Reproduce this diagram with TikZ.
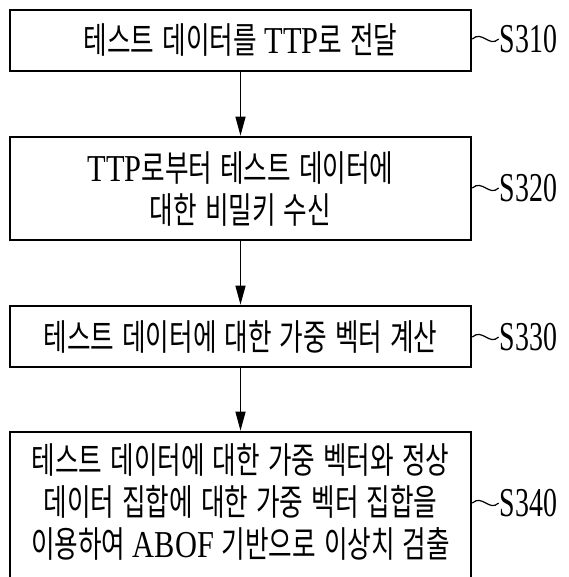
\documentclass[tikz,border=0pt]{standalone}
\usepackage{fontspec}
\setmainfont{Liberation Serif}[FakeStretch=0.8]
\newfontfamily\kr{Noto Sans CJK KR}[FakeStretch=0.71,Scale=0.95,WordSpace=1.4]
\newfontfamily\lab{Liberation Serif}[FakeStretch=0.68]
\newcommand{\K}[1]{{\kr #1}}
\usetikzlibrary{arrows.meta,calc}
\begin{document}
\begin{tikzpicture}[x=1pt,y=-1pt,
  box/.style={draw,line width=2.6pt,minimum width=461pt,inner sep=0pt,align=center,
    font=\fontsize{38}{42}\selectfont},
  flow/.style={line width=1.2pt,-{Triangle[length=19pt,width=10pt]}},
  tag/.style={font=\lab\fontsize{41}{41}\selectfont,inner sep=0pt},
  wave/.style={line width=1.2pt}]
\clip (0,0) rectangle (568,577);
\fill[white] (0,0) rectangle (568,577);
\node[box,minimum height=61pt] (b1) at (240.5,40.5) {\K{테스트 데이터를} TTP\K{로 전달}};
\node[box,minimum height=103pt] (b2) at (240.5,188.5) {TTP\K{로부터 테스트 데이터에}\\ \K{대한 비밀키 수신}};
\node[box,minimum height=61pt] (b3) at (240.5,336.5) {\K{테스트 데이터에 대한 가중 벡터 계산}};
\node[box,minimum height=146pt] (b4) at (240.5,505) {\K{테스트 데이터에 대한 가중 벡터와 정상}\\ \K{데이터 집합에 대한 가중 벡터 집합을}\\ \K{이용하여} ABOF \K{기반으로 이상치 검출}\rule[-8pt]{0pt}{8pt}};
\draw[flow] (b1.south) -- (b2.north);
\draw[flow] (b2.south) -- (b3.north);
\draw[flow] (b3.south) -- (b4.north);
\node[tag] (s1) at (528.5,39) {S310};
\node[tag] (s2) at (528.5,188) {S320};
\node[tag] (s3) at (528.5,337) {S330};
\node[tag] (s4) at (528.5,503) {S340};
\foreach \b/\s in {b1/s1,b2/s2,b3/s3,b4/s4}{
  \coordinate (w\s) at (\b.east |- \s.west);
  \draw[wave] (w\s) .. controls ($(w\s)+(10,-9)$) and ($(w\s)+(17,9)$) .. ($(\s.west)+(-1,0)$);
}
\end{tikzpicture}
\end{document}
